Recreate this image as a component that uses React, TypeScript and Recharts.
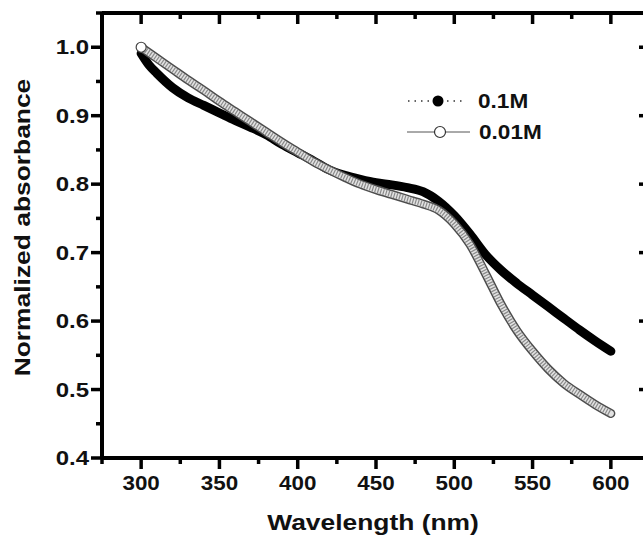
import { Legend, Line, LineChart, XAxis, YAxis } from 'recharts'

// Normalized UV-vis absorbance of two concentrations.
const WAVELENGTH = [300, 305, 310, 320, 330, 340, 350, 360, 370, 380, 390, 400, 410, 420, 430, 440, 450, 460, 470, 480, 490, 500, 510, 520, 530, 540, 550, 560, 570, 580, 590, 600]
const ABS_01M = [0.991, 0.974, 0.962, 0.941, 0.926, 0.915, 0.904, 0.893, 0.883, 0.872, 0.858, 0.846, 0.834, 0.821, 0.813, 0.807, 0.802, 0.799, 0.795, 0.789, 0.775, 0.754, 0.727, 0.697, 0.674, 0.655, 0.638, 0.621, 0.604, 0.587, 0.571, 0.556]
const ABS_001M = [1.0, 0.992, 0.984, 0.968, 0.952, 0.937, 0.921, 0.906, 0.891, 0.876, 0.861, 0.847, 0.833, 0.821, 0.81, 0.8, 0.792, 0.785, 0.778, 0.771, 0.762, 0.742, 0.712, 0.669, 0.624, 0.586, 0.556, 0.53, 0.509, 0.493, 0.478, 0.465]

const SERIES_LABELS = ['0.1M', '0.01M']
const X_DOMAIN = [275, 625]
const Y_DOMAIN = [0.4, 1.05]
const X_TICKS = [275, 300, 325, 350, 375, 400, 425, 450, 475, 500, 525, 550, 575, 600, 625]
const Y_TICKS = [0.4, 0.45, 0.5, 0.55, 0.6, 0.65, 0.7, 0.75, 0.8, 0.85, 0.9, 0.95, 1.0, 1.05]

const rows = WAVELENGTH.map((w, i) => ({ w, c1: ABS_01M[i], c2: ABS_001M[i] }))

const FONT = '"Liberation Sans", Arial, sans-serif'
const INK = '#111'
const TICK_W = 3.5
const majorX = (v: number) => v % 50 === 0
const majorY = (v: number) => Math.round(v * 100) % 10 === 0

// Origin 스타일: 아래/왼쪽 눈금은 바깥, 위/오른쪽 거울축 눈금은 안쪽.
const BottomTick = ({ x, y, payload }: any) => {
  const major = majorX(payload.value)
  return (
    <g>
      <line x1={x} x2={x} y1={y} y2={y + (major ? 11 : 6)} stroke="#000" strokeWidth={TICK_W} />
      {major && (
        <text transform={`translate(${x},${y + 32}) scale(1.12,1)`} textAnchor="middle" fontFamily={FONT} fontWeight="bold" fontSize={20} fill={INK}>
          {payload.value}
        </text>
      )}
    </g>
  )
}

const LeftTick = ({ x, y, payload }: any) => {
  const major = majorY(payload.value)
  return (
    <g>
      <line x1={x - (major ? 11 : 6)} x2={x} y1={y} y2={y} stroke="#000" strokeWidth={TICK_W} />
      {major && (
        <text transform={`translate(${x - 13},${y + 7}) scale(1.2,1)`} textAnchor="end" fontFamily={FONT} fontWeight="bold" fontSize={20} fill={INK}>
          {payload.value.toFixed(1)}
        </text>
      )}
    </g>
  )
}

const TopTick = ({ x, y, payload }: any) => (
  <line x1={x} x2={x} y1={y} y2={y + (majorX(payload.value) ? 11 : 6)} stroke="#000" strokeWidth={TICK_W} />
)

const RightTick = ({ x, y, payload }: any) => (
  <line x1={x - (majorY(payload.value) ? 11 : 6)} x2={x} y1={y} y2={y} stroke="#000" strokeWidth={TICK_W} />
)

const XTitle = ({ viewBox }: any) => (
  <text transform={`translate(${viewBox.x + viewBox.width / 2 - 3},${viewBox.y + 72}) scale(1.2,1)`} textAnchor="middle" fontFamily={FONT} fontWeight="bold" fontSize={22} fill={INK}>
    Wavelength (nm)
  </text>
)

const YTitle = ({ viewBox }: any) => (
  <text transform={`translate(${viewBox.x + 30},${viewBox.y + viewBox.height / 2 - 8}) rotate(-90) scale(1.2,1)`} textAnchor="middle" fontFamily={FONT} fontWeight="bold" fontSize={22} fill={INK}>
    Normalized absorbance
  </text>
)

const LegendBox = () => (
  <svg width={170} height={62}>
    <line x1={8} x2={66} y1={15} y2={15} stroke="#333" strokeWidth={1.5} strokeDasharray="1.5 5" />
    <circle cx={38} cy={15} r={5.5} fill="#000" />
    <text transform="translate(78,22) scale(1.13,1)" fontFamily={FONT} fontWeight="bold" fontSize={20} fill={INK}>
      {SERIES_LABELS[0]}
    </text>
    <line x1={7} x2={70} y1={46} y2={46} stroke="#555" strokeWidth={1} />
    <circle cx={40} cy={46} r={5.5} fill="#fff" stroke="#333" strokeWidth={1.2} />
    <text transform="translate(79,53) scale(1.13,1)" fontFamily={FONT} fontWeight="bold" fontSize={20} fill={INK}>
      {SERIES_LABELS[1]}
    </text>
  </svg>
)

// 첫 점(300 nm)만 흰 원으로 드러난다 — 나머지는 겹쳐서 띠처럼 보인다.
const FirstDot = (p: any) =>
  p.index === 0 ? <circle key="first" cx={p.cx} cy={p.cy} r={5} fill="#fff" stroke="#444" strokeWidth={1.2} /> : <g key={p.index} />

const axisCommon = {
  type: 'number' as const,
  interval: 0 as const,
  tickSize: 0,
  tickMargin: 0,
  tickLine: false,
  axisLine: { stroke: '#000', strokeWidth: 4 },
}

export default function App() {
  return (
    <div style={{ position: 'absolute', left: 0, top: 0, width: 643, height: 541, overflow: 'hidden', background: '#fff' }}>
      <LineChart width={663} height={541} data={rows} margin={{ top: 12, right: 12, bottom: 0, left: 0 }}>
        <XAxis {...axisCommon} dataKey="w" domain={X_DOMAIN} ticks={X_TICKS} height={83} tick={BottomTick} label={XTitle} />
        <XAxis {...axisCommon} xAxisId="top" orientation="top" dataKey="w" domain={X_DOMAIN} ticks={X_TICKS} height={1} tick={TopTick} />
        <YAxis {...axisCommon} domain={Y_DOMAIN} ticks={Y_TICKS} width={102} tick={LeftTick} label={YTitle} />
        <YAxis {...axisCommon} yAxisId="right" orientation="right" domain={Y_DOMAIN} ticks={Y_TICKS} width={1} tick={RightTick} />
        <Legend layout="vertical" align="center" verticalAlign="middle" content={LegendBox} wrapperStyle={{ left: 400, top: 86, width: 170, height: 62 }} />
        <Line dataKey="c1" name={SERIES_LABELS[0]} type="monotone" stroke="#000" strokeWidth={9} strokeLinecap="round" dot={false} isAnimationActive={false} />
        {/* 0.01M: 빈 원이 촘촘히 겹친 회색 띠 — 테두리, 바탕, 잔무늬 세 겹으로 흉내 낸다.
            바탕 층은 거울축(위/오른쪽)에 묶어 두어야 그 축들도 그려진다. 도메인이 같아 위치는 동일. */}
        <Line dataKey="c2" name={SERIES_LABELS[1]} type="monotone" stroke="#4d4d4d" strokeWidth={9} strokeLinecap="round" dot={false} isAnimationActive={false} />
        <Line dataKey="c2" legendType="none" xAxisId="top" yAxisId="right" type="monotone" stroke="#e2e2e2" strokeWidth={6} strokeLinecap="round" dot={false} isAnimationActive={false} />
        <Line dataKey="c2" legendType="none" type="monotone" stroke="#8a8a8a" strokeWidth={6} strokeDasharray="1.2 1.6" dot={FirstDot} isAnimationActive={false} />
      </LineChart>
    </div>
  )
}
